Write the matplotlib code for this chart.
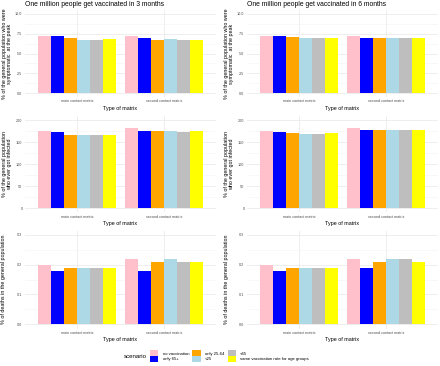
import matplotlib
matplotlib.use("Agg")
import matplotlib.pyplot as plt
from matplotlib.patches import Patch
import numpy as np

plt.rcParams["font.family"] = ["Liberation Sans", "DejaVu Sans"]

matrices = ["main contact matrix", "second contact matrix"]
scenarios = ["no vaccination", "only 65+", "only 25-64", "<25", "<65",
             "same vaccination rate for age groups"]
colors = ["#FFC0CB", "#0000FF", "#FFA500", "#ADD8E6", "#BEBEBE", "#FFFF00"]

titles = ["One million people get vaccinated in 3 months",
          "One million people get vaccinated in 6 months"]

# symptomatic at peak (%)
sympt_3m = [[7.2, 7.15, 6.9, 6.75, 6.7, 6.8],
            [7.2, 6.9, 6.7, 6.8, 6.7, 6.75]]
sympt_6m = [[7.2, 7.2, 7.05, 6.95, 6.95, 7.0],
            [7.15, 7.0, 6.9, 6.95, 6.9, 6.95]]
# ever infected (%)
inf_3m = [[174, 172, 167, 166, 165, 166],
          [182, 175, 174, 175, 173, 174]]
inf_6m = [[174, 173, 170, 169, 169, 170],
          [182, 178, 178, 178, 178, 178]]
# deaths (%)
death_3m = [[0.20, 0.18, 0.19, 0.19, 0.19, 0.19],
            [0.22, 0.18, 0.21, 0.22, 0.21, 0.21]]
death_6m = [[0.20, 0.18, 0.19, 0.19, 0.19, 0.19],
            [0.22, 0.19, 0.21, 0.22, 0.22, 0.21]]

ylabels = ["% of the general population who were\nsymptomatic  at the peak",
           "% of the general population\nwho ever got infected",
           "% of deaths in the general population"]
yticks = [[0, 2.5, 5, 7.5, 10], [0, 50, 100, 150, 200], [0, 0.1, 0.2, 0.3]]
yticklabels = [["0.0", "2.5", "5.0", "7.5", "10.0"],
               ["0", "50", "100", "150", "200"],
               ["0.0", "0.1", "0.2", "0.3"]]
ymaxs = [10, 200, 0.3]

data = [[sympt_3m, sympt_6m], [inf_3m, inf_6m], [death_3m, death_6m]]

W, H = 440, 366
fig = plt.figure(figsize=(W / 100, H / 100), dpi=100)
fig.patch.set_facecolor("white")

cols = [(25, 216), (247, 438)]
rows = [(10, 97), (115.6, 212.4), (230.5, 328.5)]

tick_fs = 2.7
lab_fs = 3.9
grid_major = "#EBEBEB"
grid_minor = "#F4F4F4"

for r, (top, bot) in enumerate(rows):
    for c, (left, right) in enumerate(cols):
        ax = fig.add_axes([left / W, 1 - bot / H, (right - left) / W, (bot - top) / H])
        vals = np.array(data[r][c])
        x = np.arange(1, len(matrices) + 1)
        bw = 0.15
        for k in range(len(scenarios)):
            ax.bar(x - 0.45 + bw / 2 + k * bw, vals[:, k], width=bw,
                   color=colors[k], zorder=3, linewidth=0)
        ymax = ymaxs[r]
        ax.set_ylim(-0.05 * ymax, 1.05 * ymax)
        ax.set_xlim(0.4, 2.6)
        ax.set_xticks(x)
        ax.set_xticklabels(matrices)
        ax.set_yticks(yticks[r])
        ax.set_yticklabels(yticklabels[r])
        yt = yticks[r]
        minor = [(yt[i] + yt[i + 1]) / 2 for i in range(len(yt) - 1)]
        ax.set_yticks(minor, minor=True)
        ax.tick_params(axis="both", which="both", length=0, labelsize=tick_fs,
                       colors="#4D4D4D", pad=1.8)
        ax.grid(True, which="major", color=grid_major, linewidth=0.6, zorder=0)
        ax.grid(True, which="minor", axis="y", color=grid_minor, linewidth=0.4, zorder=0)
        for s in ax.spines.values():
            s.set_visible(False)
        ax.set_xlabel("Type of matrix", fontsize=lab_fs, labelpad=1.8)
        ax.set_ylabel(ylabels[r], fontsize=lab_fs, linespacing=1.0)
        # label coords give the right edge of the rotated label
        lab_x = (6.5 if r == 2 else 12.0) + (left - 25)
        ax.yaxis.set_label_coords((lab_x - left) / (right - left), 0.5)
        ax.set_facecolor("white")
        if r == 0:
            fig.text(left / W, 1 - 5 / H, titles[c], fontsize=4.9,
                     ha="left", va="center")

handles = [Patch(facecolor=col, edgecolor="none") for col in colors]
leg = fig.legend(handles, scenarios, ncol=3, loc="center left",
                 bbox_to_anchor=(147 / W, 1 - 356 / H), frameon=False,
                 fontsize=3.1, handlelength=1.9, handleheight=1.6,
                 handletextpad=1.0, columnspacing=0.8, labelspacing=0.0,
                 borderpad=0.2)
fig.text(147 / W, 1 - 356.5 / H, "scenario", fontsize=4.4, ha="right", va="center")

fig.savefig("out.png", dpi=100, facecolor="white")
